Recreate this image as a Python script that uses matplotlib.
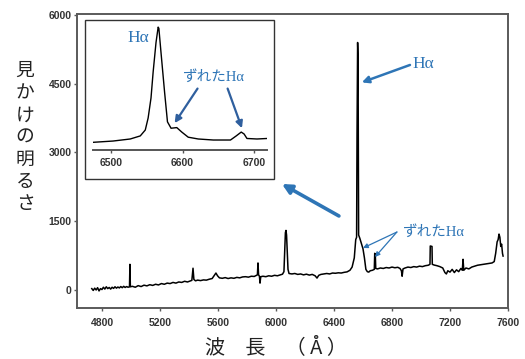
import matplotlib
matplotlib.use("Agg")
import matplotlib.pyplot as plt
from matplotlib.patches import Rectangle

# ---------------- data ----------------
wavelength = [
    4730, 4740, 4750, 4760, 4770, 4780, 4790, 4800, 4810, 4820, 4830, 4840, 4850, 4860,
    4870, 4880, 4890, 4900, 4910, 4920, 4930, 4940, 4950, 4960, 4970, 4980, 4990, 4993,
    4996, 5010, 5030, 5050, 5070, 5090, 5110, 5130, 5150, 5170, 5190, 5210, 5230, 5250,
    5270, 5290, 5310, 5330, 5350, 5370, 5390, 5410, 5420, 5428, 5434, 5445, 5460, 5480,
    5500, 5520, 5540, 5560, 5575, 5586, 5597, 5610, 5630, 5650, 5670, 5690, 5710, 5730,
    5750, 5770, 5790, 5810, 5830, 5850, 5865, 5872, 5876, 5880, 5886, 5890, 5895, 5910,
    5930, 5950, 5970, 5990, 6010, 6030, 6045, 6055, 6060, 6065, 6069, 6073, 6078, 6083,
    6090, 6110, 6130, 6150, 6170, 6190, 6210, 6230, 6250, 6270, 6283, 6295, 6310, 6330,
    6350, 6370, 6390, 6410, 6430, 6450, 6470, 6490, 6510, 6525, 6540, 6550, 6556, 6559,
    6563, 6566, 6568, 6570, 6578, 6590, 6600, 6610, 6620, 6630, 6640, 6650, 6665, 6678,
    6681, 6685, 6688, 6700, 6720, 6740, 6760, 6780, 6800, 6820, 6840, 6855, 6865, 6870,
    6876, 6890, 6910, 6930, 6950, 6970, 6990, 7010, 7030, 7050, 7062, 7064, 7076, 7078,
    7090, 7110, 7130, 7150, 7165, 7175, 7185, 7200, 7215, 7230, 7245, 7260, 7275, 7285,
    7290, 7295, 7310, 7330, 7350, 7370, 7390, 7410, 7430, 7450, 7470, 7490, 7505, 7515,
    7525, 7532, 7538, 7544, 7550, 7556, 7562, 7566,
]
flux = [
    30, -10, 40, 0, 50, -20, 30, 10, 60, 20, 70, 30, 55, 20,
    60, 35, 70, 40, 65, 45, 75, 50, 80, 55, 75, 60, 70, 560,
    70, 80, 60, 95, 75, 105, 90, 115, 100, 125, 110, 140, 125, 150,
    140, 165, 150, 175, 165, 190, 175, 200, 210, 475, 230, 200, 215, 205,
    220, 215, 235, 250, 320, 370, 310, 265, 255, 270, 250, 265, 255, 275,
    265, 285, 290, 280, 300, 295, 320, 330, 590, 330, 300, 150, 290, 300,
    290, 310, 300, 320, 310, 330, 345, 400, 800, 1250, 1300, 1200, 800, 450,
    360, 350, 360, 340, 350, 330, 345, 325, 340, 310, 260, 320, 340, 350,
    360, 350, 370, 365, 375, 370, 385, 395, 430, 500, 700, 1100, 1150, 3400,
    5400, 5060, 3400, 1200, 1130, 1000, 900, 700, 450, 400, 390, 420, 430, 450,
    800, 780, 470, 460, 480, 470, 490, 480, 500, 485, 495, 470, 420, 300,
    460, 480, 500, 490, 510, 500, 520, 510, 530, 540, 560, 960, 950, 560,
    545, 530, 510, 480, 380, 350, 420, 390, 450, 380, 440, 400, 470, 430,
    670, 430, 480, 460, 500, 520, 540, 550, 560, 570, 580, 590, 620, 800,
    1050, 1100, 1220, 1150, 950, 1000, 800, 740,
]

inset_wavelength = [6475, 6503, 6527, 6541, 6548, 6552, 6556, 6559, 6563, 6566, 6567,
                    6570, 6575, 6579, 6584, 6592, 6599, 6608, 6622, 6643, 6667, 6675,
                    6682, 6686, 6690, 6704, 6718]
inset_flux = [6, 7, 8.6, 11, 15.6, 25, 40.6, 61, 84, 96, 95,
              76, 45, 22, 17, 17.5, 14, 10, 8.6, 7.8, 7.8, 11,
              14, 12.5, 9, 8.6, 9]

x_ticks = [4800, 5200, 5600, 6000, 6400, 6800, 7200, 7600]
y_ticks = [0, 1500, 3000, 4500, 6000]
inset_ticks = [6500, 6600, 6700]

ylabel_text = "見かけの明るさ"
xlabel_text = "波　長　（ Å ）"
ha_label = "Hα"
shift_label = "ずれたHα"

# ---------------- style ----------------
W, H = 525, 359
BLUE = "#2e75b6"
DBLUE = "#2f5f9e"
GRAY = "#5a5a5a"
TICKC = "#333333"
CJK = ["Noto Sans CJK JP", "DejaVu Sans"]
MIX = ["Liberation Serif", "Noto Sans CJK JP", "DejaVu Sans"]

fig = plt.figure(figsize=(W / 100, H / 100), dpi=100)

def fx(px):
    return px / W

def fy(py):
    return 1 - py / H

# main axes: left 77, right 508, top 14, bottom 308
ax = fig.add_axes([fx(77), fy(308), fx(508 - 77), (308 - 14) / H])
ax.plot(wavelength, flux, color="black", lw=1.1)
ax.set_xlim(4628, 7600)
ax.set_ylim(-393, 6022)
ax.set_xticks(x_ticks)
ax.set_yticks(y_ticks)
for s in ax.spines.values():
    s.set_color(GRAY)
    s.set_linewidth(1.4)
ax.tick_params(direction="out", length=2.5, width=1, color=GRAY, labelcolor=TICKC)
ax.tick_params(axis="x", pad=4.5)
ax.tick_params(axis="y", pad=1.5)
for lab in ax.get_xticklabels() + ax.get_yticklabels():
    lab.set_fontfamily("Liberation Sans")
    lab.set_fontweight("bold")
    lab.set_fontsize(7.5)

# main annotations
ax.annotate("", xy=(6592, 4530), xytext=(6924, 4910),
            arrowprops=dict(arrowstyle="-|>", color=BLUE, lw=1.8, mutation_scale=10,
                            shrinkA=0, shrinkB=0))
ax.text(6940, 4930, ha_label, color=BLUE, fontsize=12.5, family=MIX, ha="left", va="center")

ax.text(7080, 1265, shift_label, color=BLUE, fontsize=10.5, family=MIX, ha="center", va="center")
ax.annotate("", xy=(6600, 916), xytext=(6834, 1265),
            arrowprops=dict(arrowstyle="-|>", color=BLUE, lw=0.9, mutation_scale=7,
                            shrinkA=0, shrinkB=0))
ax.annotate("", xy=(6683, 720), xytext=(6834, 1265),
            arrowprops=dict(arrowstyle="-|>", color=BLUE, lw=0.9, mutation_scale=7,
                            shrinkA=0, shrinkB=0))

# big arrow toward inset
ax.annotate("", xy=(6041, 2313), xytext=(6434, 1615),
            arrowprops=dict(arrowstyle="-|>", color=BLUE, lw=2.6, mutation_scale=14,
                            shrinkA=0, shrinkB=0))

# inset frame
frame = Rectangle((fx(85), fy(179)), fx(274 - 85), (179 - 20) / H, transform=fig.transFigure,
                  facecolor="white", edgecolor="#333333", lw=1.0, zorder=5)
fig.patches.append(frame)

# inset axes: x 93..267, y 22..150
axi = fig.add_axes([fx(93), fy(150), fx(267 - 93), (150 - 22) / H], zorder=6)
axi.patch.set_alpha(0)
axi.plot(inset_wavelength, inset_flux, color="black", lw=1.0)
axi.set_xlim(6475, 6718)
axi.set_ylim(0, 100)
axi.set_xticks(inset_ticks)
axi.set_yticks([])
for k in ["top", "right", "left"]:
    axi.spines[k].set_visible(False)
axi.spines["bottom"].set_color("#555555")
axi.spines["bottom"].set_linewidth(1.4)
axi.tick_params(axis="x", direction="out", length=2.5, width=1, color="#555555",
                labelcolor=TICKC, pad=3)
for lab in axi.get_xticklabels():
    lab.set_fontfamily("Liberation Sans")
    lab.set_fontweight("bold")
    lab.set_fontsize(7.5)

axi.text(6538, 87.5, ha_label, color=BLUE, fontsize=12.5, family=MIX, ha="center", va="center")
axi.text(6643, 57, shift_label, color=BLUE, fontsize=10.5, family=MIX, ha="center", va="center")
axi.annotate("", xy=(6589, 21), xytext=(6621, 48),
             arrowprops=dict(arrowstyle="-|>", color=DBLUE, lw=1.6, mutation_scale=10,
                             shrinkA=0, shrinkB=0))
axi.annotate("", xy=(6683, 17), xytext=(6663, 48),
             arrowprops=dict(arrowstyle="-|>", color=DBLUE, lw=1.6, mutation_scale=10,
                             shrinkA=0, shrinkB=0))

# axis labels
fig.text(fx(25), fy(137), "\n".join(ylabel_text), family=CJK, fontsize=13.5, color="#222222",
         ha="center", va="center", linespacing=1.07)
fig.text(fx(276), fy(348), xlabel_text, family=CJK, fontsize=14.5, color="#222222",
         ha="center", va="center")

fig.savefig("out.png", dpi=100, facecolor="white")
